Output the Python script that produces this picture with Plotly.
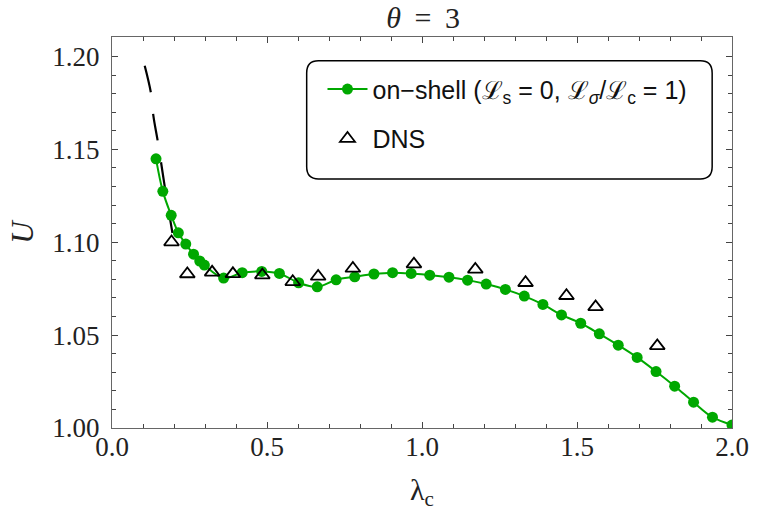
import plotly.graph_objects as go

# on-shell model (green)
lam_onshell = [0.142, 0.164, 0.191, 0.214, 0.238, 0.263, 0.283, 0.298, 0.360, 0.420,
               0.483, 0.540, 0.602, 0.662, 0.723, 0.783, 0.845, 0.905, 0.965, 1.025,
               1.087, 1.147, 1.207, 1.269, 1.330, 1.390, 1.450, 1.512, 1.572, 1.633,
               1.694, 1.755, 1.815, 1.876, 1.937, 2.000]
U_onshell = [1.1449, 1.1274, 1.1145, 1.1051, 1.0990, 1.0936, 1.0899, 1.0877, 1.0807, 1.0836,
             1.0843, 1.0832, 1.0782, 1.0760, 1.0798, 1.0814, 1.0829, 1.0836, 1.0832, 1.0823,
             1.0812, 1.0796, 1.0775, 1.0746, 1.0710, 1.0665, 1.0609, 1.0564, 1.0507, 1.0446,
             1.0380, 1.0304, 1.0225, 1.0139, 1.0058, 1.0016]

# DNS (triangles)
lam_dns = [0.192, 0.243, 0.323, 0.390, 0.485, 0.583, 0.665, 0.777, 0.974, 1.172,
           1.334, 1.466, 1.560, 1.759]
U_dns = [1.1001, 1.0829, 1.0838, 1.0830, 1.0823, 1.0787, 1.0816, 1.0859, 1.0882, 1.0854,
         1.0782, 1.0712, 1.0652, 1.0442]

# dashed asymptote
lam_dash = [0.1055, 0.126, 0.1335, 0.149, 0.172, 0.195]
U_dash = [1.195, 1.180, 1.168, 1.153, 1.128, 1.105]

green = "#00a800"
serif = "Liberation Serif"
sans = "Liberation Sans"

fig = go.Figure()
fig.add_trace(go.Scatter(x=lam_dash, y=U_dash, mode="lines", line=dict(color="black", width=2.2, dash="27px,22px"),
                         line_shape="spline", showlegend=False, hoverinfo="skip"))
fig.add_trace(go.Scatter(x=lam_onshell, y=U_onshell, mode="lines+markers", line_shape="spline",
                         line=dict(color=green, width=2), marker=dict(color=green, size=11),
                         name="on\u2212shell (\u2112<sub>s</sub> = 0, \u2112<sub><i>\u03c3</i></sub>/\u2112<sub>c</sub> = 1)",
                         legendgroup="a"))
fig.add_trace(go.Scatter(x=lam_dns, y=U_dns, mode="markers",
                         marker=dict(symbol="triangle-up-open", color="black", size=13, line=dict(width=1.8, color="black")),
                         name="DNS", legendgroup="b"))

# rounded legend frame (paper coords)
x0, x1, y0, y1 = 0.314, 0.968, 0.637, 0.939
rx, ry = 0.019, 0.031
path = (f"M {x0+rx},{y1} L {x1-rx},{y1} Q {x1},{y1} {x1},{y1-ry} L {x1},{y0+ry} Q {x1},{y0} {x1-rx},{y0} "
        f"L {x0+rx},{y0} Q {x0},{y0} {x0},{y0+ry} L {x0},{y1-ry} Q {x0},{y1} {x0+rx},{y1} Z")
fig.add_shape(type="path", path=path, xref="paper", yref="paper", line=dict(color="black", width=1.5),
              fillcolor="white", layer="below")

axis_common = dict(showline=True, linecolor="#666666", linewidth=1.3, mirror="allticks", ticks="inside",
                   ticklen=6, tickwidth=1, tickcolor="#444444", showgrid=False, zeroline=False,
                   tickfont=dict(family=serif, size=27, color="#222222"))

fig.update_xaxes(range=[0, 2.0], tick0=0, dtick=0.5, tickformat=".1f",
                 minor=dict(dtick=0.1, ticks="inside", ticklen=3.5, tickcolor="#444444", showgrid=False),
                 title=dict(text="\u03bb<sub>c</sub>", font=dict(family=serif, size=30, color="#222222"), standoff=18),
                 ticklabelstandoff=-6, **axis_common)
fig.update_yaxes(range=[1.0, 1.2105], tick0=1.0, dtick=0.05, tickformat=".2f",
                 minor=dict(dtick=0.01, ticks="inside", ticklen=3.5, tickcolor="#444444", showgrid=False),
                 title=dict(text="<i>U</i>", font=dict(family=serif, size=31, color="#222222"), standoff=9),
                 ticklabelstandoff=6, **axis_common)

fig.update_layout(
    width=761, height=521,
    margin=dict(l=112, r=18, t=37, b=93),
    paper_bgcolor="white", plot_bgcolor="white",
    font=dict(family=serif, size=24, color="#222222"),
    title=dict(text="<i>\u03b8</i> \u2009=\u2009 3", x=0.556, xanchor="center", y=0.967, yanchor="middle",
               font=dict(family=serif, size=30, color="#222222")),
    legend=dict(x=0.3395, y=0.925, xanchor="left", yanchor="top", bgcolor="rgba(0,0,0,0)",
                font=dict(family=sans, size=25, color="#111111"), traceorder="grouped", tracegroupgap=14,
                itemwidth=40),
    showlegend=True,
)

fig.write_html("out.html")
